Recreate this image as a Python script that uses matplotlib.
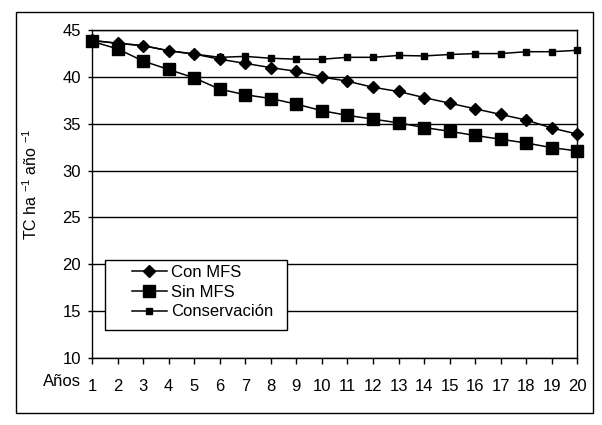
import matplotlib
matplotlib.use("Agg")
import matplotlib.pyplot as plt
from matplotlib.patches import Rectangle

plt.rcParams['font.family'] = ['Liberation Sans', 'DejaVu Sans']
plt.rcParams['mathtext.fontset'] = 'custom'
plt.rcParams['mathtext.rm'] = 'Liberation Sans'

# ---- data ----
years = list(range(1, 21))
year_labels = [str(y) for y in years]
con_mfs = [43.9, 43.6, 43.35, 42.8, 42.45, 41.9, 41.45, 41.0, 40.6, 40.0,
           39.55, 38.9, 38.45, 37.8, 37.2, 36.6, 36.0, 35.4, 34.55, 33.9]
sin_mfs = [43.8, 43.0, 41.7, 40.8, 39.9, 38.7, 38.1, 37.7, 37.1, 36.4,
           35.9, 35.5, 35.1, 34.6, 34.2, 33.75, 33.35, 32.95, 32.45, 32.1]
conservacion = [43.9, 43.6, 43.35, 42.8, 42.45, 42.1, 42.2, 42.0, 41.9, 41.9,
                42.1, 42.1, 42.3, 42.25, 42.4, 42.5, 42.5, 42.7, 42.7, 42.85]
series_names = ["Con MFS", "Sin MFS", "Conservación"]
y_ticks = [10, 15, 20, 25, 30, 35, 40, 45]

fig = plt.figure(figsize=(6.02, 4.25), dpi=100)
ax = fig.add_axes([0.153, 0.158, 0.806, 0.771])

# outer chart frame
fig.patches.append(Rectangle((0.027, 0.028), 0.958, 0.944, transform=fig.transFigure,
                             fill=False, edgecolor='black', linewidth=1.0))

for v in y_ticks:
    ax.axhline(v, color='black', linewidth=1.0, zorder=1)

l1, = ax.plot(years, con_mfs, color='black', lw=1.1, marker='D', markersize=6,
              clip_on=False, zorder=4)
l2, = ax.plot(years, sin_mfs, color='black', lw=1.1, marker='s', markersize=8.5,
              clip_on=False, zorder=3)
l3, = ax.plot(years, conservacion, color='black', lw=1.1, marker='s', markersize=5,
              clip_on=False, zorder=4)

ax.set_xlim(1, 20)
ax.set_ylim(10, 45)
ax.set_yticks(y_ticks)
ax.set_xticks(years)
ax.set_xticklabels(year_labels)
for s in ax.spines.values():
    s.set_color('black')
    s.set_linewidth(1.0)
ax.tick_params(axis='x', direction='out', length=4, width=1, pad=11, labelsize=12)
ax.tick_params(axis='y', direction='out', length=3, width=1, pad=5, labelsize=12)

ax.set_ylabel(r'TC ha $^{-1}$ año $^{-1}$', fontsize=11.5)
ax.yaxis.set_label_coords(-0.107, 0.53)

ax.text(-0.022, -0.073, 'Años', transform=ax.transAxes, ha='right', va='center', fontsize=12)

# legend box
ax.add_patch(Rectangle((1.5, 13.0), 7.15, 7.4, facecolor='white', edgecolor='black',
                       linewidth=1.0, clip_on=False, zorder=6))
leg = ax.legend([l1, l2, l3], series_names, loc='upper left',
                bbox_to_anchor=(2.55, 19.9), bbox_transform=ax.transData,
                frameon=False, fontsize=12, handlelength=2.1, handletextpad=0.25,
                labelspacing=0.28, borderpad=0, borderaxespad=0)
leg.set_zorder(7)

fig.savefig('out.png', dpi=100)
